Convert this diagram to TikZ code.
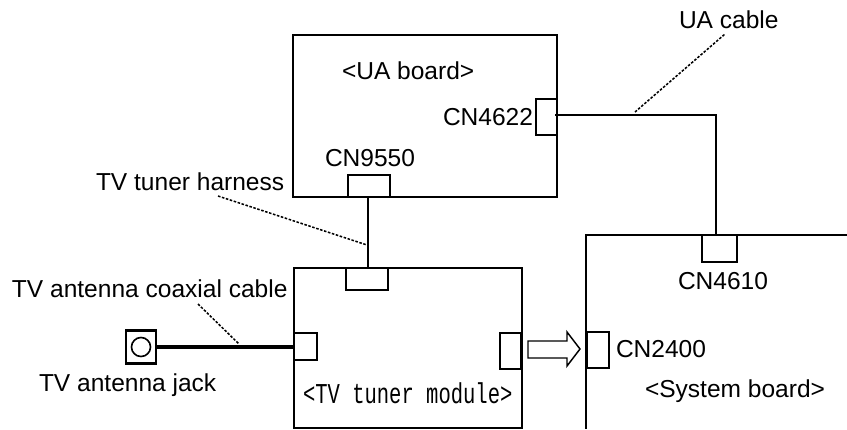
\documentclass[tikz,border=0pt]{standalone}
\usepackage{graphicx}
\usepackage{fontspec}
\setmainfont{Liberation Sans}
\setmonofont{Liberation Mono}
\newcommand{\pxbox}[5]{\node[partbox,minimum width={(#4-#2)*0.75pt},minimum height={(#5-#3)*0.75pt}] (#1) at ({(#2+#4)/2},{(#3+#5)/2}) {};}
\tikzset{
  partbox/.style={draw=black,line width=1.1pt,inner sep=0pt,outer sep=0pt,rectangle},
  wire/.style={draw=black,line width=1.1pt},
  leader/.style={draw=black,line width=1.15pt,dash pattern=on 1.9pt off 1.2pt},
  lab/.style={inner sep=0pt,outer sep=0pt,font=\fontsize{18.4pt}{20pt}\selectfont,text=black,anchor=base west},
}
\begin{document}
\begin{tikzpicture}[x=0.75pt,y=-0.75pt]
\useasboundingbox (0,0) rectangle (847,429);
% boards
\pxbox{ua}{293}{35}{557}{197}
\pxbox{tuner}{294}{268}{522}{428}
\coordinate (sysTR) at (847,235);
\coordinate (sysBL) at (586,429);
\draw[wire] (sysTR) -| (sysBL);
% connectors
\pxbox{cnua}{536}{99}{557}{135}
\pxbox{cnnine}{348}{175}{390}{197}
\pxbox{tutop}{346}{268}{388}{290}
\pxbox{tuleft}{294}{333}{317}{360}
\pxbox{turight}{500}{333}{521}{369}
\pxbox{cnfour}{702}{235}{737}{262}
\pxbox{cntwo}{587}{332}{609}{368}
% jack
\node[draw=black,line width=1.7pt,minimum width={30*0.75pt},minimum height={33*0.75pt},inner sep=0pt,outer sep=0pt] (jack) at (141,347) {};
\node[draw=black,line width=1.2pt,circle,minimum size={19*0.75pt},inner sep=0pt] (jackc) at (141,347) {};
% wires
\coordinate (wuastart) at (555,115);
\coordinate (wuacorner) at (716,115);
\coordinate (wuaend) at (716,235);
\draw[wire] (wuastart) -- (wuacorner) -- (wuaend);
\coordinate (wharb) at (368,197);
\coordinate (whart) at (368,268);
\draw[wire] (wharb) -- (whart);
\draw[draw=black,line width=2.6pt] (jack.east) -- (jack.east -| tuleft.west);
% arrow
\draw[draw=black,line width=1.1pt,fill=white] (528,341) -- (567,341) -- (567,332) -- (580,349) -- (567,366) -- (567,358) -- (528,358) -- cycle;
% leaders
\coordinate (coaxa) at (198,304); \coordinate (coaxb) at (239,344);
\draw[leader] (coaxa) -- (coaxb);
\coordinate (hara) at (218,196); \coordinate (harb) at (367,245);
\draw[leader] (hara) -- (harb);
\coordinate (uaa) at (635,112); \coordinate (uab) at (725,34);
\draw[leader] (uaa) -- (uab);
% labels
\node[lab] (lua) at (342,79) {<UA board>};
\node[lab] (l4622) at (443,125) {CN4622};
\node[lab] (l9550) at (325,166) {CN9550};
\node[lab] (lhar) at (96,190) {TV tuner harness};
\node[lab] (lcoax) at (12,297) {TV antenna coaxial cable};
\node[lab] (ljack) at (39,391) {TV antenna jack};
\node[lab] (l4610) at (678,289) {CN4610};
\node[lab] (l2400) at (616,357) {CN2400};
\node[lab] (lsys) at (645,397) {<System board>};
\node[lab] (luac) at (679,28) {UA cable};
\node[inner sep=0pt,outer sep=0pt,anchor=base west] (ltv) at (303,403) {\scalebox{1}[1.4]{\ttfamily\fontsize{15.4pt}{16pt}\selectfont <TV tuner module>}};
\end{tikzpicture}
\end{document}
